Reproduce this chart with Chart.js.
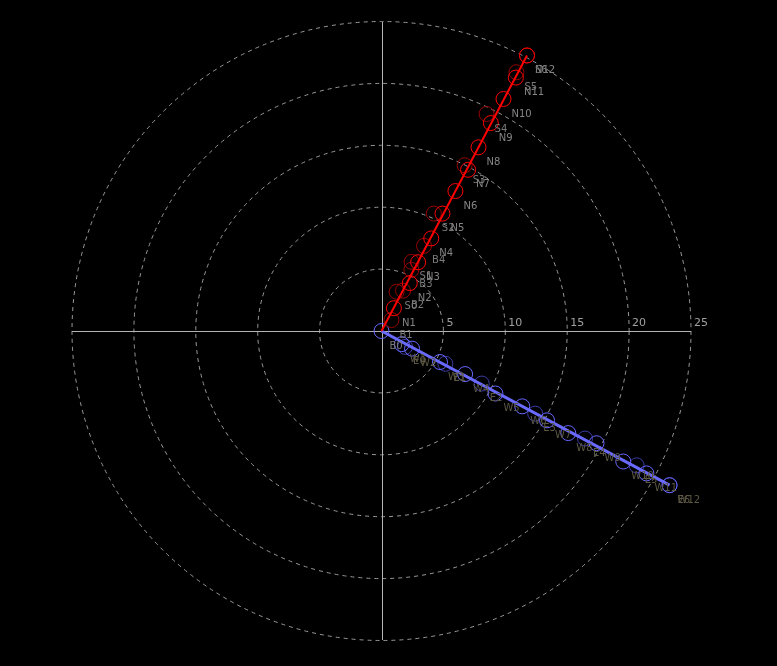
<!DOCTYPE html>
<html lang="en">
<head>
<meta charset="UTF-8">
<title>Polar plot</title>
<script src="https://cdn.jsdelivr.net/npm/chart.js"></script>
<style>
    html, body { margin: 0; padding: 0; background: #000; }
</style>
</head>
<body>
<canvas id="polarChart" width="777" height="666"></canvas>
<script>
// polar grid rings (radius units)
const ringValues = [5, 10, 15, 20, 25];
const maxRadius = 25;

// red group: N (bright), S and B (dark)
const nLabels = ['N1', 'N2', 'N3', 'N4', 'N5', 'N6', 'N7', 'N8', 'N9', 'N10', 'N11', 'N12'];
const nRadius = [2.1, 4.5, 6.3, 8.5, 10.7, 12.8, 14.8, 16.8, 19.0, 21.2, 23.2, 25.2];
const nAngle  = [61.5, 59.5, 62, 61.8, 62.6, 62.2, 61.8, 62.2, 62.3, 62.3, 62.1, 62.2];

const sLabels = ['S0', 'S1', 'S2', 'S3', 'S4', 'S5', 'S6'];
const sRadius = [3.4, 6.1, 10.4, 15.0, 19.5, 23.6, 25.2];
const sAngle  = [69, 66.5, 66, 63.4, 64.2, 62.5, 62.2];

const bLabels = ['B0', 'B1', 'B2', 'B3', 'B4'];
const bRadius = [0, 1.2, 3.7, 5.5, 7.7];
const bAngle  = [0, 48, 62, 64, 63.5];

// blue group: W (bright), E (dark)
const wLabels = ['W1', 'W2', 'W3', 'W4', 'W5', 'W6', 'W7', 'W8', 'W9', 'W10', 'W11', 'W12'];
const wRadius = [1.95, 2.85, 5.35, 7.6, 10.5, 12.9, 15.2, 17.2, 19.6, 22.2, 24.3, 26.4];
const wAngle  = [-33, -30, -28, -27.3, -28.8, -28.2, -28.4, -28.7, -27.6, -28.4, -28.3, -28.2];

const eLabels = ['E0', 'E1', 'E2', 'E3', 'E4', 'E5', 'E6'];
const eRadius = [2.3, 5.8, 9.15, 14.1, 18.6, 23.3, 26.4];
const eAngle  = [-34, -27.2, -27.7, -28.3, -27.9, -27.8, -28.2];

function toPoints(radius, angle) {
    return radius.map((r, i) => {
        const a = angle[i] * Math.PI / 180;
        return { x: r * Math.cos(a), y: r * Math.sin(a) };
    });
}

const nPoints = toPoints(nRadius, nAngle);
const sPoints = toPoints(sRadius, sAngle);
const bPoints = toPoints(bRadius, bAngle);
const wPoints = toPoints(wRadius, wAngle);
const ePoints = toPoints(eRadius, eAngle);

// straight line from the origin to the last point of each bright series
const redLine = [{ x: 0, y: 0 }, nPoints[nPoints.length - 1]];
const blueLine = [{ x: 0, y: 0 }, wPoints[wPoints.length - 1]];

function markers(points, labels, color, labelColor, order) {
    // a marker sitting exactly on the origin is left to the blue one
    const radius = points.map((p) => (p.x === 0 && p.y === 0 ? 0 : 7.5));
    return {
        data: points,
        pointLabels: labels,
        labelColor: labelColor,
        showLine: false,
        pointStyle: 'circle',
        pointRadius: radius,
        pointHoverRadius: radius,
        pointBorderWidth: 1,
        pointBorderColor: color,
        pointBackgroundColor: 'rgba(0,0,0,0)',
        order: order
    };
}

function line(points, color, width, radius, order) {
    return {
        data: points,
        showLine: true,
        borderColor: color,
        borderWidth: width,
        pointRadius: radius,
        pointHoverRadius: radius,
        pointBorderWidth: 1,
        pointBorderColor: color,
        pointBackgroundColor: 'rgba(0,0,0,0)',
        order: order
    };
}

// background, rings, axes and ring labels
const polarGrid = {
    id: 'polarGrid',
    beforeDraw(chart) {
        const ctx = chart.ctx;
        ctx.save();
        ctx.fillStyle = '#000';
        ctx.fillRect(0, 0, chart.width, chart.height);
        ctx.restore();
    },
    beforeDatasetsDraw(chart) {
        const ctx = chart.ctx;
        const xs = chart.scales.x;
        const ys = chart.scales.y;
        const cx = xs.getPixelForValue(0);
        const cy = ys.getPixelForValue(0);
        ctx.save();
        ctx.strokeStyle = '#9a9a9a';
        ctx.lineWidth = 1;
        ctx.setLineDash([4, 4]);
        ringValues.forEach((v) => {
            const r = xs.getPixelForValue(v) - cx;
            ctx.beginPath();
            ctx.arc(cx, cy, r, 0, Math.PI * 2);
            ctx.stroke();
        });
        ctx.setLineDash([]);
        ctx.strokeStyle = '#b4b4b4';
        ctx.beginPath();
        ctx.moveTo(xs.getPixelForValue(-maxRadius), cy + 0.5);
        ctx.lineTo(xs.getPixelForValue(maxRadius), cy + 0.5);
        ctx.moveTo(Math.round(cx) + 0.5, ys.getPixelForValue(maxRadius));
        ctx.lineTo(Math.round(cx) + 0.5, ys.getPixelForValue(-maxRadius));
        ctx.stroke();
        ctx.fillStyle = '#a0a0a0';
        ctx.font = '11px "DejaVu Sans"';
        ctx.textAlign = 'left';
        ctx.textBaseline = 'bottom';
        ringValues.forEach((v) => {
            ctx.fillText(String(v), xs.getPixelForValue(v) + 3, cy - 2);
        });
        ctx.restore();
    },
    afterDatasetsDraw(chart) {
        const ctx = chart.ctx;
        ctx.save();
        ctx.font = '10px "DejaVu Sans"';
        ctx.textAlign = 'left';
        ctx.textBaseline = 'middle';
        chart.data.datasets.forEach((ds, i) => {
            if (!ds.pointLabels) return;
            const meta = chart.getDatasetMeta(i);
            ctx.fillStyle = ds.labelColor;
            meta.data.forEach((pt, j) => {
                ctx.fillText(ds.pointLabels[j], pt.x + 8, pt.y + 15);
            });
        });
        ctx.restore();
    }
};

const ctx = document.getElementById('polarChart').getContext('2d');
const polarChart = new Chart(ctx, {
    type: 'scatter',
    data: {
        datasets: [
            line(redLine, '#ff0000', 2, 0, 0),
            markers(nPoints, nLabels, '#ff0000', '#858585', 1),
            markers(sPoints, sLabels, '#990000', '#7a7a7a', 2),
            markers(bPoints, bLabels, '#990000', '#7a7a7a', 3),
            line(blueLine, '#6a6aff', 3, [7.5, 0], 4),
            markers(wPoints, wLabels, '#6666ff', '#5c5844', 5),
            markers(ePoints, eLabels, '#3c3ca8', '#5c5844', 6)
        ]
    },
    options: {
        responsive: false,
        animation: false,
        events: [],
        layout: { padding: { left: 72, right: 86, top: 22, bottom: 26 } },
        plugins: {
            legend: { display: false },
            tooltip: { enabled: false }
        },
        scales: {
            x: { type: 'linear', min: -maxRadius, max: maxRadius, display: false },
            y: { type: 'linear', min: -maxRadius, max: maxRadius, display: false }
        }
    },
    plugins: [polarGrid]
});
</script>
</body>
</html>
